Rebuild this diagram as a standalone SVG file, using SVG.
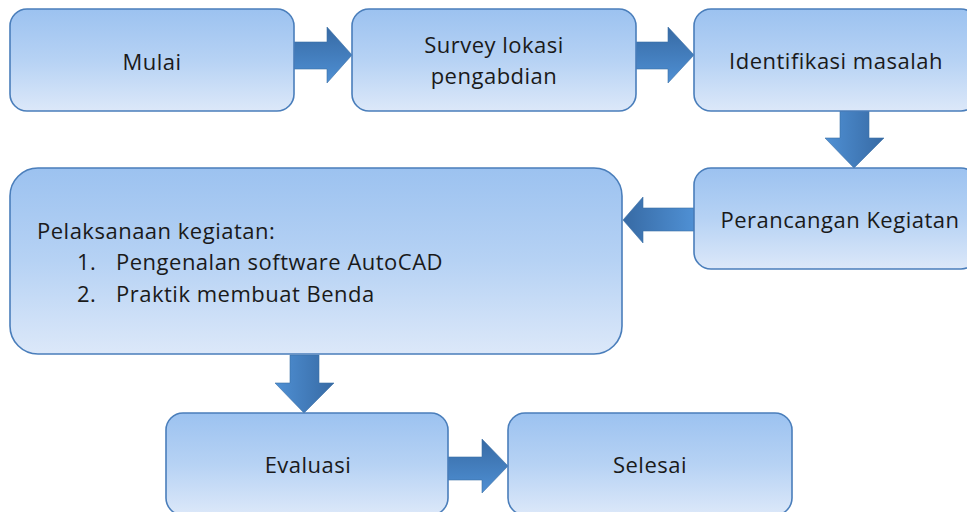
<svg xmlns="http://www.w3.org/2000/svg" width="967" height="512" viewBox="0 0 967 512">
  <defs>
    <linearGradient id="boxFill" x1="0" y1="0" x2="0" y2="1">
      <stop offset="0" stop-color="#9cc2f0"/>
      <stop offset="0.5" stop-color="#b6d2f4"/>
      <stop offset="1" stop-color="#dce8f9"/>
    </linearGradient>
    <linearGradient id="arrRight" x1="0" y1="0" x2="0" y2="1">
      <stop offset="0" stop-color="#376aa4"/>
      <stop offset="1" stop-color="#4f90d4"/>
    </linearGradient>
    <linearGradient id="arrDown" x1="1" y1="0" x2="0" y2="0">
      <stop offset="0" stop-color="#376aa4"/>
      <stop offset="1" stop-color="#4f90d4"/>
    </linearGradient>
    <linearGradient id="arrLeft" x1="0" y1="0" x2="1" y2="0">
      <stop offset="0" stop-color="#376aa4"/>
      <stop offset="1" stop-color="#4f90d4"/>
    </linearGradient>
  </defs>
  <style>
    .box { fill: url(#boxFill); stroke: #4a7ebb; stroke-width: 1.6; }
    .lbl { font-family: "Open Sans", "Liberation Sans", sans-serif; font-size: 22px; fill: #1a1a1a; letter-spacing: 0.5px; }
    .mid { text-anchor: middle; }
    .ar { stroke: #3a6ea5; stroke-width: 0.6; }
  </style>
  <rect width="967" height="512" fill="#ffffff"/>

  <g id="connectors">
    <polygon class="ar" fill="url(#arrRight)" points="294,42 327,42 327,27 352,55 327,83 327,69 294,69"/>
    <polygon class="ar" fill="url(#arrRight)" points="636,42 668,42 668,27 694,55 668,83 668,69 636,69"/>
    <polygon class="ar" fill="url(#arrDown)" points="840,111 869,111 869,138 884,138 854,168 825,138 840,138"/>
    <polygon class="ar" fill="url(#arrLeft)" points="694,208 643,208 643,197 623,220 643,243 643,231 694,231"/>
    <polygon class="ar" fill="url(#arrDown)" points="290,355 319,355 319,383 334,383 304,413 275,383 290,383"/>
    <polygon class="ar" fill="url(#arrRight)" points="448,457 482,457 482,439 508,466 482,493 482,480 448,480"/>
  </g>

  <g id="n-mulai">
    <rect class="box" x="10" y="9" width="284" height="102" rx="17"/>
    <text class="lbl mid" x="152" y="70">Mulai</text>
  </g>
  <g id="n-survey">
    <rect class="box" x="352" y="9" width="284" height="102" rx="17"/>
    <text class="lbl mid" x="494" y="53">Survey lokasi</text>
    <text class="lbl mid" x="494" y="84">pengabdian</text>
  </g>
  <g id="n-identifikasi">
    <rect class="box" x="694" y="9" width="284" height="102" rx="17"/>
    <text class="lbl mid" x="836" y="69">Identifikasi masalah</text>
  </g>
  <g id="n-perancangan">
    <rect class="box" x="694" y="168" width="284" height="101" rx="17"/>
    <text class="lbl mid" x="840" y="228">Perancangan Kegiatan</text>
  </g>
  <g id="n-pelaksanaan">
    <rect class="box" x="10" y="168" width="612" height="186" rx="28"/>
    <text class="lbl" x="37" y="239">Pelaksanaan kegiatan:</text>
    <text class="lbl" x="77" y="270">1.</text>
    <text class="lbl" x="116" y="270">Pengenalan software AutoCAD</text>
    <text class="lbl" x="77" y="302">2.</text>
    <text class="lbl" x="116" y="302">Praktik membuat Benda</text>
  </g>
  <g id="n-evaluasi">
    <rect class="box" x="166" y="413" width="282" height="102" rx="17"/>
    <text class="lbl mid" x="308" y="473">Evaluasi</text>
  </g>
  <g id="n-selesai">
    <rect class="box" x="508" y="413" width="284" height="102" rx="17"/>
    <text class="lbl mid" x="650" y="473">Selesai</text>
  </g>
</svg>
